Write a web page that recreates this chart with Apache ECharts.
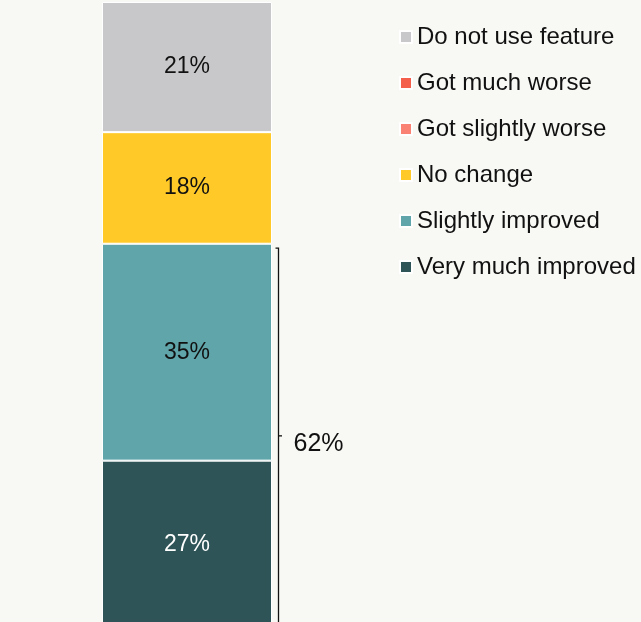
<!DOCTYPE html>
<html>
<head>
<meta charset="utf-8">
<script src="https://cdn.jsdelivr.net/npm/echarts@6/dist/echarts.min.js"></script>
<style>
  html, body { margin: 0; padding: 0; background: #f8f8f4; }
  #chart { width: 641px; height: 622px; }
</style>
</head>
<body>
<div id="chart"></div>
<script>
// Share of respondents per answer (percent), stacked bottom to top
const categories = ['All'];
const seriesNames = ['Very much improved', 'Slightly improved', 'No change', 'Got slightly worse', 'Got much worse', 'Do not use feature'];
const seriesValues = [27, 35, 18, 0, 0, 21];
const seriesColors = ['#2e5457', '#5fa5a9', '#ffca28', '#f98274', '#f45f4c', '#c8c8ca'];
const labelColors = ['#ffffff', '#111111', '#111111', '#111111', '#111111', '#111111'];
const legendOrder = ['Do not use feature', 'Got much worse', 'Got slightly worse', 'No change', 'Slightly improved', 'Very much improved'];
// Improved answers grouped by the bracket
const improvedNames = ['Very much improved', 'Slightly improved'];

const FONT = '"Liberation Sans", Arial, Helvetica, sans-serif';
const total = seriesValues.reduce((a, b) => a + b, 0);
const improvedTotal = improvedNames.reduce((s, n) => s + seriesValues[seriesNames.indexOf(n)], 0);

const chart = echarts.init(document.getElementById('chart'), null, { renderer: 'canvas' });

const barSeries = seriesNames.map((name, i) => ({
  name: name,
  type: 'bar',
  stack: 'total',
  barWidth: '100%',
  data: [seriesValues[i]],
  itemStyle: { color: seriesColors[i], borderColor: '#ffffff', borderWidth: 1 },
  label: {
    show: seriesValues[i] > 0,
    position: 'inside',
    formatter: p => p.value + '%',
    color: labelColors[i],
    fontSize: 23,
    fontFamily: FONT
  },
  emphasis: { disabled: true }
}));

// Bracket spanning the improved segments, drawn from the value axis
const bracketSeries = {
  type: 'custom',
  name: 'bracket',
  silent: true,
  clip: false,
  data: [[0, 0, improvedTotal]],
  encode: { x: 0, y: [1, 2] },
  renderItem: function (params, api) {
    const c = api.value(0);
    const bottom = api.coord([c, api.value(1)]);
    const top = api.coord([c, api.value(2)]);
    const band = api.size([1, 0])[0];
    const x = bottom[0] + band / 2 + 6.5;
    const y0 = top[1] + 4.5;
    const y1 = bottom[1] - 4.5;
    const ym = (y0 + y1) / 2;
    const stroke = { stroke: '#111111', lineWidth: 1.3, fill: null };
    return {
      type: 'group',
      children: [
        { type: 'polyline', shape: { points: [[x - 3, y0], [x, y0], [x, y1], [x - 3, y1]] }, style: stroke },
        { type: 'line', shape: { x1: x, y1: ym, x2: x + 3.5, y2: ym }, style: stroke },
        {
          type: 'text',
          style: {
            text: api.value(2) + '%',
            x: x + 15,
            y: ym + 8,
            verticalAlign: 'middle',
            fill: '#111111',
            fontSize: 25,
            fontFamily: FONT
          }
        }
      ]
    };
  }
};

chart.setOption({
  backgroundColor: '#f8f8f4',
  animation: false,
  grid: { left: 102, width: 170, top: 2, height: 626, containLabel: false, outerBoundsMode: 'none' },
  xAxis: { type: 'category', data: categories, show: false },
  yAxis: { type: 'value', min: 0, max: total, show: false },
  legend: {
    orient: 'vertical',
    left: 394,
    top: 20,
    data: legendOrder,
    icon: 'rect',
    itemWidth: 12,
    itemHeight: 12,
    itemGap: 22,
    selectedMode: false,
    textStyle: { fontSize: 24, fontFamily: FONT, color: '#111111', lineHeight: 24 }
  },
  series: barSeries.concat([bracketSeries])
});
</script>
</body>
</html>
